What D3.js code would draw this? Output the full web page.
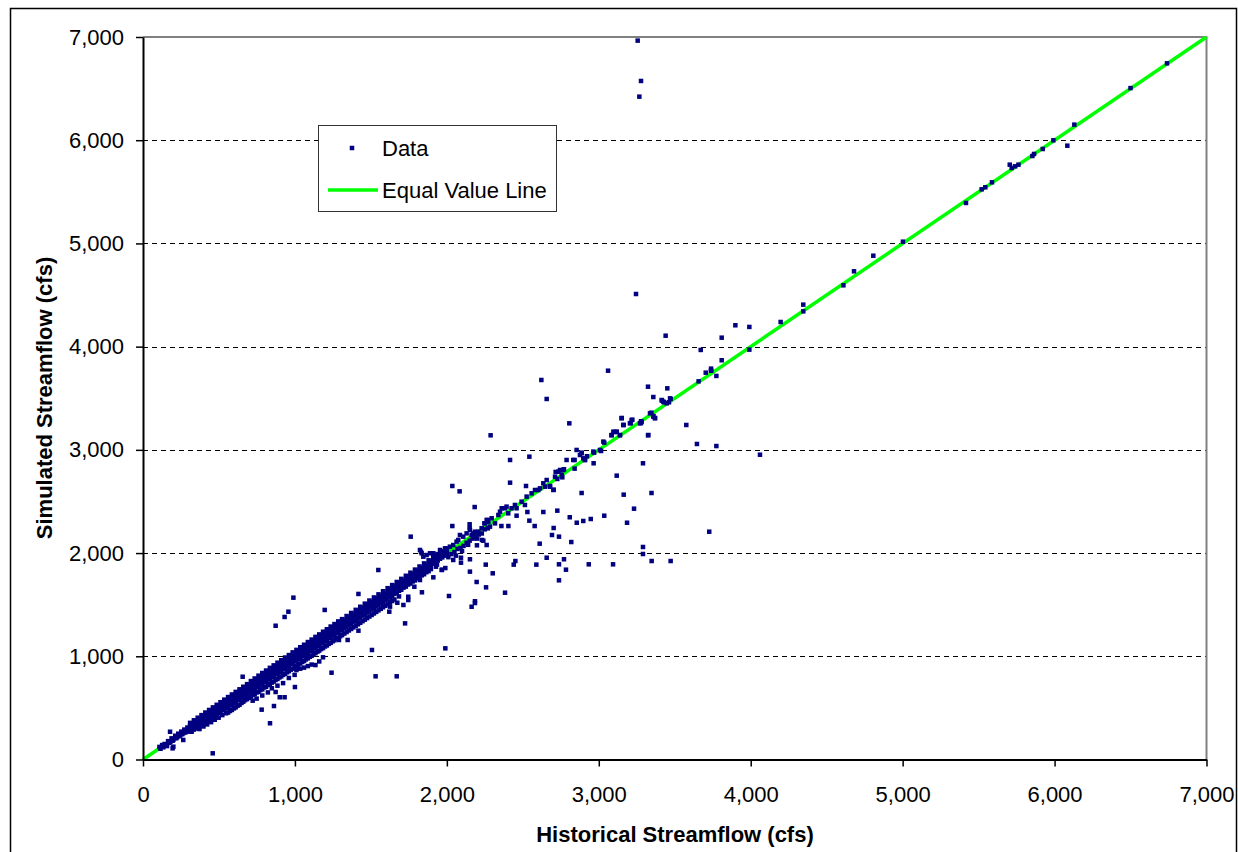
<!DOCTYPE html>
<html>
<head>
<meta charset="utf-8">
<script src="https://cdn.jsdelivr.net/npm/d3@7"></script>
<style>
  body { margin: 0; background: #fff; }
  text { font-family: Arial, "Liberation Sans", sans-serif; }
</style>
</head>
<body>
<div id="main"></div>
<script>
// axis ticks
var xTicks = [0, 1000, 2000, 3000, 4000, 5000, 6000, 7000];
var yTicks = [0, 1000, 2000, 3000, 4000, 5000, 6000, 7000];
var gridTicks = [1000, 2000, 3000, 4000, 5000, 6000];
var equalLine = [0, 7000];
var legendLabels = ["Data", "Equal Value Line"];

// dense band along the line: [historical, [simulated values...]]
var denseBand = [
	[108,[122]],[115,[104]],[126,[140]],[134,[118]],[142,[150]],[150,[138]],[158,[130]],[165,[178]],
	[172,[160]],[180,[170]],[188,[205]],[195,[182]],[200,[124,190]],[212,[230]],[218,[205]],[225,[215]],
	[232,[250]],[238,[226]],[245,[232]],[252,[270]],[258,[245]],[265,[189,255]],[272,[290]],[278,[262]],
	[285,[268]],[292,[310]],[298,[282]],[305,[296]],
	[310,[355,325,300,270]],[322,[340,310,285]],[335,[380,350,320,290]],[348,[365,338,300]],
	[360,[405,372,345,318]],[372,[390,360,325,295]],[385,[430,400,370,340]],[398,[415,385,350,320]],
	[410,[455,425,395,362]],[422,[440,410,375,340]],[435,[480,450,418,385]],[448,[465,438,400,362]],
	[460,[505,475,445,410]],[472,[490,462,425,385]],[485,[530,500,470,432]],[498,[515,488,450,405]],
	[510,[555,525,495,455]],[522,[540,512,478,430]],[535,[580,550,520,480]],[548,[565,538,500,448]],
	[560,[605,575,545,505,455]],[572,[590,562,525,470]],[585,[630,600,570,528,480]],[598,[615,588,550,495]],
	[610,[655,625,595,552,505]],[622,[640,612,575,520]],[635,[680,650,620,580,530]],[648,[665,638,600,548]],
	[660,[705,675,645,605,560]],[672,[690,662,625,575]],[685,[730,700,670,630,585]],[698,[715,688,650,598]],
	[710,[760,728,698,655,610]],[722,[740,712,675,625,570]],[735,[785,752,722,680,632]],[748,[768,738,700,650,590]],
	[760,[812,778,748,705,655]],[772,[792,762,725,672]],[785,[838,802,772,730,680,620]],[798,[818,788,750,698]],
	[810,[862,828,798,755,705]],[822,[842,812,775,722,650]],[835,[888,852,822,780,730]],[848,[868,838,800,745,690]],
	[860,[912,878,848,805,755]],[872,[892,862,825,770]],[885,[938,902,872,830,780,715]],[898,[918,888,850,795]],
	[910,[962,928,898,855,805]],[922,[942,912,875,820,740]],[935,[988,952,922,880,830]],[948,[968,938,900,845]],
	[960,[1012,978,948,905,855,790]],[972,[992,962,925,870]],[985,[1038,1002,972,930,880]],[998,[1018,988,950,895,820]],
	[1010,[1062,1028,998,955,905,867]],[1022,[1042,1012,975,920]],[1035,[1088,1052,1022,980,930,880]],[1048,[1068,1038,1000,945]],
	[1060,[1112,1078,1048,1005,955,890]],[1072,[1092,1062,1025,970]],[1085,[1138,1102,1072,1030,980,905]],[1098,[1118,1088,1050,995]],
	[1110,[1162,1128,1098,1055,1005,920]],[1122,[1142,1112,1075,1020]],[1135,[1188,1152,1122,1080,1030,915]],[1148,[1168,1138,1100,1045]],
	[1160,[1212,1178,1148,1105,1055,950]],[1172,[1192,1162,1125,1070]],[1185,[1238,1202,1172,1130,1080,990]],[1198,[1218,1188,1150,1095]],
	[1210,[1262,1228,1198,1155,1105]],[1222,[1242,1212,1175,1120]],[1235,[1288,1252,1222,1180,1130]],[1248,[1268,1238,1200,1145]],
	[1260,[1312,1278,1248,1205,1155]],[1272,[1292,1262,1225,1170]],[1285,[1338,1302,1272,1230,1180]],[1298,[1318,1288,1250,1195]],
	[1310,[1360,1328,1298,1255,1205]],[1325,[1345,1315,1275,1220]],[1340,[1390,1358,1328,1285,1235]],[1355,[1375,1345,1305,1250]],
	[1370,[1420,1388,1358,1315,1265]],[1385,[1405,1375,1335,1280]],[1400,[1450,1418,1388,1345,1295]],[1415,[1435,1405,1365,1310]],
	[1430,[1480,1448,1418,1375,1325]],[1445,[1465,1435,1395,1340]],[1460,[1510,1478,1448,1405,1355]],[1475,[1495,1465,1425,1370]],
	[1490,[1540,1508,1478,1435,1385]],[1505,[1525,1495,1455,1400]],[1520,[1570,1538,1508,1465,1415]],[1535,[1555,1525,1485,1430]],
	[1550,[1600,1568,1538,1495,1445]],[1565,[1585,1555,1515,1460]],[1580,[1630,1598,1568,1525,1475]],[1595,[1615,1585,1545,1490]],
	[1610,[1660,1628,1598,1555,1505]],[1625,[1645,1615,1575,1520]],[1640,[1690,1658,1628,1585,1535]],[1655,[1675,1645,1605,1550]],
	[1670,[1720,1688,1658,1615]],[1685,[1705,1675,1635,1580]],[1700,[1750,1718,1688,1645]],[1715,[1735,1705,1665]],
	[1730,[1780,1748,1718,1675]],[1745,[1765,1735,1695]],[1760,[1810,1778,1748,1705]],[1775,[1795,1765,1725]],
	[1790,[1840,1808,1778,1735]],[1805,[1825,1795,1755]],[1820,[1870,1838,1808,1765]],[1835,[1855,1825,1785]],
	[1850,[1900,1868,1838,1795]],[1865,[1885,1855,1815]],[1880,[1930,1898,1868,1825]],[1895,[1915,1885,1845]],
	[1910,[1960,1928,1898]],[1925,[1945,1915]],[1940,[1990,1958,1928]],[1955,[1975,1945]],
	[1970,[2015,1988,1958]],[1985,[2005,1975]],[2000,[2045,2018,1988]],[2010,[1960]],[2030,[1990]],
	[2050,[2010]],[2060,[1975]],[2070,[2040]],[2090,[2050]],[2100,[2020]],[2110,[2070]],[2130,[2100]],
	[2140,[2080]],[2150,[2120]],[2170,[2140]],[2190,[2160]],[2200,[2140]],[2210,[2180]],[2230,[2190]],
	[2250,[2230]],[2270,[2240]]
];

// points close to the equal value line above 1,800 cfs
var nearLine = [
	[1823,2030],[1834,1998],[1845,1965],[1867,1981],[1889,1998],[1911,1998],[1933,1981],[1955,2030],
	[1966,2014],[1988,2046],[1999,1998],[2020,2062],[2042,2078],[2064,2111],[2075,2127],[2086,2175],
	[2108,2159],[2130,2191],[2152,2224],[2163,2175],[2174,2191],[2185,2207],[2207,2207],[2229,2240],
	[2251,2288],[2262,2321],[2273,2304],[2284,2256],[2295,2337],[2317,2288],[2339,2369],[2350,2401],
	[2361,2434],[2383,2434],[2393,2450],[2404,2385],[2426,2434],[2448,2466],[2459,2434],[2492,2498],
	[2514,2466],[2525,2547],[2558,2579],[2580,2611],[2602,2611],[2613,2627],[2635,2676],[2646,2643],
	[2657,2708],[2679,2643],[2701,2611],[2712,2740],[2734,2789],[2745,2805],[2756,2757],[2766,2805],
	[2788,2902],[2832,2902],[2854,2999],[2876,2950],[2887,2967],[2898,2918],[2909,2902],[2964,2983],
	[3008,2999],[3030,3080],[3085,3144],[3096,3176],[3118,3176],[3139,3144],[3150,3306],[3161,3241],
	[3205,3257],[3216,3289],[3271,3257],[3282,3273],[3326,3144],[3337,3354],[3359,3322],[3370,3306],
	[3414,3483],[3425,3467],[3447,3451],[3469,3499],[2269,2320],[2247,2288],
	[3657,3664],[3704,3748],[3739,3767],[3739,3787],[3774,3716],[3991,3971],[4197,4239],[4346,4342],
	[4346,4407],[4610,4594],[4680,4730],[4807,4881],[5002,5017],[5417,5392],[5520,5524],[5544,5544],
	[5588,5592],[5705,5763],[5718,5731],[5740,5747],[5762,5763],[5854,5847],[5865,5867],[5922,5915],
	[5992,5999],[6084,5947],[6130,6151],[6500,6505],[6740,6745]
];

// scattered points away from the line
var scattered = [
	[459,60],[195,108],[178,269],[320,269],[656,802],[781,483],[836,351],[862,518],[873,654],[900,603],
	[932,603],[1000,702],[873,1296],[932,1381],[957,1432],[990,1568],[1196,1449],[1241,841],[1290,1158],
	[1347,1158],[1418,1248],[1418,1604],[1507,1061],[1531,806],[1549,1836],[1621,1432],[1626,1481],
	[1670,806],[1674,1519],[1714,1497],[1725,1319],[1746,1545],[1746,1577],[1762,2159],[1786,1674],
	[1823,1739],[1830,1788],[1830,2013],[1836,1620],[1911,1765],[1928,1868],[1935,1888],[1966,1836],
	[1968,1839],[1990,1855],[1990,1077],[2014,1584],[2036,2650],[2036,2262],[2042,1933],[2084,2598],
	[2093,1955],[2093,1907],[2150,2279],[2150,2243],[2152,1940],[2152,1820],[2163,1480],[2183,2446],
	[2185,1533],[2185,1516],[2196,1720],[2198,2075],[2231,2127],[2240,2120],[2256,1888],[2258,1668],
	[2262,2078],[2288,3141],[2302,1804],[2359,2262],[2383,1616],[2405,2262],[2416,2902],[2416,2682],
	[2440,1888],[2451,1923],[2459,2362],[2521,2650],[2530,2398],[2543,2934],[2543,2314],[2578,2262],
	[2589,1888],[2611,2091],[2622,3677],[2635,2398],[2657,3493],[2657,1955],[2679,2650],[2692,2175],
	[2703,2614],[2703,2243],[2716,2786],[2727,2718],[2727,2411],[2738,2159],[2738,1891],[2738,1736],
	[2749,2802],[2760,2734],[2771,2812],[2771,1940],[2784,1839],[2806,3257],[2809,2347],[2819,2107],
	[2841,2902],[2841,2818],[2855,2294],[2887,2973],[2887,2582],[2898,2311],[2909,2902],[2922,2938],
	[2934,1891],[2947,2330],[2966,2870],[2969,2973],[3015,2989],[3036,3070],[3036,2362],[3061,3767],
	[3083,3141],[3094,1891],[3105,3173],[3118,3173],[3118,2750],[3140,3141],[3151,3309],[3164,3241],
	[3164,2566],[3186,2294],[3210,3260],[3221,3292],[3232,2430],[3278,3277],[3278,3260],[3291,2870],
	[3291,2059],[3291,1991],[3324,3612],[3324,3141],[3346,3360],[3347,2582],[3348,1923],[3359,3512],
	[3359,3328],[3370,3309],[3416,3477],[3429,3461],[3451,3596],[3462,3461],[3473,3493],[3473,1923],
	[3576,3241],[3646,3057],[3671,3968],[3727,2207],[3739,3767],[3774,3037],[3809,3868],[3809,4087],
	[3440,4106],[3899,4207],[3991,4191],[4061,2953],[3245,4510],[3267,6422],[3278,6574],[3256,6965]
];

var dataPairs = [];
denseBand.forEach(function(row) {
	row[1].forEach(function(s) { dataPairs.push([row[0], s]); });
});
dataPairs = dataPairs.concat(nearLine, scattered);

var W = 1238, H = 852;
var svg = d3.select("#main").append("svg")
	.attr("width", W)
	.attr("height", H);

// chart frame
svg.append("rect")
	.attr("x", 10.5).attr("y", 8.5)
	.attr("width", 1226).attr("height", 860)
	.style("fill", "#fff")
	.style("stroke", "#000")
	.style("stroke-width", 1.5);

var x = d3.scaleLinear().domain([0, 7000]).range([143, 1206.5]);
var y = d3.scaleLinear().domain([0, 7000]).range([759.5, 37]);

// gridlines
svg.selectAll(".grid").data(gridTicks).enter().append("line")
	.attr("x1", x(0)).attr("x2", x(7000))
	.attr("y1", function(d) { return Math.round(y(d)) + 0.5; })
	.attr("y2", function(d) { return Math.round(y(d)) + 0.5; })
	.style("stroke", "#000")
	.style("stroke-width", 1)
	.style("stroke-dasharray", "5,4");

// gray plot border top and right
svg.append("path")
	.attr("d", "M" + x(0) + "," + y(7000) + "H" + x(7000) + "V" + y(0))
	.style("fill", "none")
	.style("stroke", "#808080")
	.style("stroke-width", 2);

// equal value line
svg.append("line")
	.attr("x1", x(equalLine[0])).attr("y1", y(equalLine[0]))
	.attr("x2", x(equalLine[1])).attr("y2", y(equalLine[1]))
	.style("stroke", "#00ff00")
	.style("stroke-width", 3.5);

// data markers
var ms = 4.5;
svg.append("g").selectAll("rect").data(dataPairs).enter().append("rect")
	.attr("x", function(d) { return x(d[0]) - ms / 2; })
	.attr("y", function(d) { return y(d[1]) - ms / 2; })
	.attr("width", ms).attr("height", ms)
	.style("fill", "#000080");

// axes
var fmt = d3.format(",");
var xAxis = svg.append("g")
	.attr("transform", "translate(0," + y(0) + ")")
	.call(d3.axisBottom(x).tickValues(xTicks).tickFormat(fmt).tickSize(7).tickSizeOuter(0).tickPadding(20));
var yAxis = svg.append("g")
	.attr("transform", "translate(" + x(0) + ",0)")
	.call(d3.axisLeft(y).tickValues(yTicks).tickFormat(fmt).tickSize(7).tickSizeOuter(0).tickPadding(12));

[xAxis, yAxis].forEach(function(a) {
	a.select(".domain").style("stroke", "#000").style("stroke-width", 2);
	a.selectAll(".tick line").style("stroke", "#000").style("stroke-width", 1.5);
	a.selectAll(".tick text")
		.style("font-family", "Arial, 'Liberation Sans', sans-serif")
		.style("font-size", "22px")
		.style("fill", "#000");
});

// axis titles
svg.append("text")
	.attr("x", 675).attr("y", 842)
	.attr("text-anchor", "middle")
	.style("font-size", "22px")
	.style("font-weight", "bold")
	.text("Historical Streamflow (cfs)");

svg.append("text")
	.attr("transform", "translate(52,398) rotate(-90)")
	.attr("text-anchor", "middle")
	.style("font-size", "22px")
	.style("font-weight", "bold")
	.text("Simulated Streamflow (cfs)");

// legend
var legend = svg.append("g");
legend.append("rect")
	.attr("x", 318.5).attr("y", 125.5)
	.attr("width", 238).attr("height", 86)
	.style("fill", "#fff")
	.style("stroke", "#333")
	.style("stroke-width", 1);
legend.append("rect")
	.attr("x", 352 - ms / 2).attr("y", 148 - ms / 2)
	.attr("width", ms).attr("height", ms)
	.style("fill", "#000080");
legend.append("line")
	.attr("x1", 328).attr("x2", 378)
	.attr("y1", 190).attr("y2", 190)
	.style("stroke", "#00ff00")
	.style("stroke-width", 3.5);
legend.selectAll(".lt").data(legendLabels).enter().append("text")
	.attr("x", 382)
	.attr("y", function(d, i) { return i === 0 ? 156 : 198; })
	.style("font-size", "22px")
	.text(function(d) { return d; });
</script>
</body>
</html>
